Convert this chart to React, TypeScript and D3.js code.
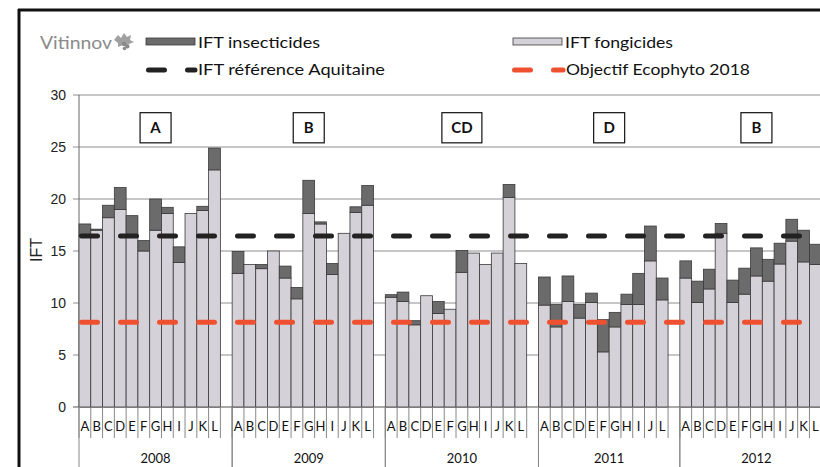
import * as d3 from "d3";

// Exploitations A..L, une série par millésime (pas de K en 2011)
const years = ["2008", "2009", "2010", "2011", "2012"];
const letters = ["A", "B", "C", "D", "E", "F", "G", "H", "I", "J", "K", "L"];
const letters2011 = ["A", "B", "C", "D", "E", "F", "G", "H", "I", "J", "L"];
const vineyardsByYear = [letters, letters, letters, letters2011, letters];

const fongicides = [
  [16.5, 17.0, 18.2, 19.0, 16.4, 15.0, 17.0, 18.6, 13.9, 18.6, 18.9, 22.8],
  [12.85, 13.7, 13.3, 15.0, 12.4, 10.4, 18.6, 17.6, 12.75, 16.7, 18.7, 19.4],
  [10.55, 10.15, 7.9, 10.7, 9.0, 9.4, 12.95, 14.8, 13.7, 14.8, 20.15, 13.8],
  [9.8, 7.7, 10.15, 8.55, 10.05, 5.3, 7.7, 9.85, 9.85, 14.05, 10.3],
  [12.4, 10.05, 11.35, 16.7, 10.05, 10.85, 12.6, 12.1, 13.75, 15.95, 13.95, 13.7],
];

const insecticides = [
  [1.1, 0.1, 1.2, 2.1, 2.0, 1.0, 3.0, 0.6, 1.5, 0, 0.4, 2.1],
  [2.1, 0, 0.4, 0, 1.15, 1.1, 3.2, 0.2, 1.05, 0, 0.55, 1.9],
  [0.25, 0.9, 0.4, 0, 1.15, 0, 2.1, 0, 0, 0, 1.25, 0],
  [2.7, 2.15, 2.45, 1.3, 0.9, 3.1, 1.4, 1.0, 3.0, 3.35, 2.1],
  [1.65, 2.05, 1.9, 0.95, 2.15, 2.5, 2.7, 2.1, 2.0, 2.1, 3.05, 1.95],
];

const refAquitaine = 16.45;
const objectifEcophyto = 8.15;
const groupLabels = ["A", "B", "CD", "D", "B"];
const yTicks = [0, 5, 10, 15, 20, 25, 30];

const W = 820;
const H = 467;
const left = 79;
const right = 833;
const top = 95;
const bottom = 407;

const FONG = "#d5d1d8";
const INS = "#6b6b6b";
const EDGE = "#3a3a3a";
const RED = "#ef5030";
const DARK = "#222";
const calibri = "Lato, 'Open Sans', sans-serif";
const arial = "'Liberation Sans', Arial, sans-serif";

type Slot = { id: string; year: number; letter: string | null; fong: number; ins: number };

const slots: Slot[] = [];
years.forEach((_, yi) => {
  vineyardsByYear[yi].forEach((l, li) => {
    slots.push({ id: `${yi}-${l}`, year: yi, letter: l, fong: fongicides[yi][li], ins: insecticides[yi][li] });
  });
  slots.push({ id: `${yi}-blank`, year: yi, letter: null, fong: 0, ins: 0 });
});

export default function App() {
  const x = d3
    .scaleBand<string>()
    .domain(slots.map((s) => s.id))
    .range([left, right])
    .padding(0);
  const y = d3.scaleLinear().domain([0, 30]).range([bottom, top]);
  const bw = x.bandwidth();

  const groupRange = years.map((_, yi) => {
    const ids = slots.filter((s) => s.year === yi).map((s) => s.id);
    const x0 = x(ids[0])!;
    const x1 = x(ids[ids.length - 1])! + bw;
    return [x0, x1];
  });

  const dash = "16 23";

  return (
    <div style={{ position: "fixed", left: 0, top: 0 }}>
      <svg width={W} height={H} style={{ display: "block", background: "#fff" }}>
        {/* cadre */}
        <line x1={18} x2={W} y1={10} y2={10} stroke="#111" strokeWidth={3} />
        <line x1={19} x2={19} y1={9} y2={H} stroke="#111" strokeWidth={3} />

        {/* logo */}
        <text x={40} y={49} fontFamily={calibri} fontSize={17} fill="#8a8a8a" textLength={72} lengthAdjust="spacingAndGlyphs">
          Vitinnov
        </text>
        <g fill="#a0a0a0">
          <path d="M114,40 L118,35 L121,38 L124,33 L127,37 L131,35 L130,40 L134,42 L129,44 L127,48 L123,45 L118,47 L118,43 Z" />
          <circle cx={124} cy={44} r={2.2} fill="#888" />
          <circle cx={127.5} cy={46.5} r={2} fill="#888" />
          <circle cx={124.5} cy={48.5} r={1.8} fill="#888" />
        </g>

        {/* légende */}
        <rect x={146} y={38} width={49} height={7} fill={INS} stroke={EDGE} strokeWidth={0.8} />
        <text x={198} y={48} fontFamily={calibri} fontSize={16} fill="#111" textLength={122} lengthAdjust="spacingAndGlyphs">
          IFT insecticides
        </text>
        <rect x={513} y={38} width={49} height={7} fill={FONG} stroke={EDGE} strokeWidth={0.8} />
        <text x={565} y={48} fontFamily={calibri} fontSize={16} fill="#111" textLength={108} lengthAdjust="spacingAndGlyphs">
          IFT fongicides
        </text>
        <line x1={148.5} x2={195} y1={70} y2={70} stroke={DARK} strokeWidth={5} strokeDasharray={dash} strokeLinecap="round" />
        <text x={198} y={75} fontFamily={calibri} fontSize={16} fill="#111" textLength={187} lengthAdjust="spacingAndGlyphs">
          IFT référence Aquitaine
        </text>
        <line x1={514.5} x2={563} y1={70} y2={70} stroke={RED} strokeWidth={5} strokeDasharray={dash} strokeLinecap="round" />
        <text x={566} y={75} fontFamily={calibri} fontSize={16} fill="#111" textLength={184} lengthAdjust="spacingAndGlyphs">
          Objectif Ecophyto 2018
        </text>

        {/* grille */}
        {yTicks.map((t) => (
          <g key={t}>
            <line x1={73} x2={right} y1={y(t)} y2={y(t)} stroke={t === 0 ? "#555" : "#8e8e8e"} strokeWidth={1} />
            <text x={66} y={y(t)} dy="0.35em" textAnchor="end" fontFamily={arial} fontSize={14} fill="#222">
              {t}
            </text>
          </g>
        ))}
        <line x1={left} x2={left} y1={top} y2={bottom} stroke="#666" />
        <text
          transform={`translate(42,250) rotate(-90)`}
          textAnchor="middle"
          fontFamily={arial}
          fontSize={16}
          fill="#222"
        >
          IFT
        </text>

        {/* barres empilées */}
        {slots
          .filter((s) => s.letter)
          .map((s) => (
            <g key={s.id}>
              <rect
                x={x(s.id)}
                y={y(s.fong)}
                width={bw}
                height={y(0) - y(s.fong)}
                fill={FONG}
                stroke={EDGE}
                strokeWidth={0.8}
              />
              {s.ins > 0 && (
                <rect
                  x={x(s.id)}
                  y={y(s.fong + s.ins)}
                  width={bw}
                  height={y(s.fong) - y(s.fong + s.ins)}
                  fill={INS}
                  stroke={EDGE}
                  strokeWidth={0.8}
                />
              )}
            </g>
          ))}

        {/* références */}
        <line
          x1={left + 2.5}
          x2={right}
          y1={y(refAquitaine)}
          y2={y(refAquitaine)}
          stroke={DARK}
          strokeWidth={5}
          strokeDasharray={dash}
          strokeLinecap="round"
        />
        <line
          x1={left + 2.5}
          x2={right}
          y1={y(objectifEcophyto)}
          y2={y(objectifEcophyto)}
          stroke={RED}
          strokeWidth={5}
          strokeDasharray={dash}
          strokeLinecap="round"
        />

        {/* groupes statistiques */}
        {groupLabels.map((g, i) => {
          const cx = (groupRange[i][0] + groupRange[i][1]) / 2;
          const w = g.length > 1 ? 40 : 31;
          return (
            <g key={i}>
              <rect x={cx - w / 2} y={y(28.3)} width={w} height={y(25.4) - y(28.3)} fill="#fff" stroke="#111" strokeWidth={1.2} />
              <text
                x={cx}
                y={(y(28.3) + y(25.4)) / 2}
                dy="0.36em"
                textAnchor="middle"
                fontFamily={calibri}
                fontWeight="bold"
                fontSize={15}
                fill="#111"
              >
                {g}
              </text>
            </g>
          );
        })}

        {/* axe des catégories */}
        {slots.map((s) => (
          <g key={`t-${s.id}`}>
            <line x1={x(s.id)} x2={x(s.id)} y1={bottom} y2={438} stroke="#888" />
            {s.letter && (
              <text
                x={x(s.id)! + bw / 2}
                y={426}
                dy="0.35em"
                textAnchor="middle"
                fontFamily={calibri}
                fontSize={13}
                fill="#111"
              >
                {s.letter}
              </text>
            )}
          </g>
        ))}
        {groupRange.map(([x0, x1], i) => (
          <g key={`y-${i}`}>
            <line x1={x0} x2={x0} y1={bottom} y2={H} stroke="#888" />
            <line x1={x1} x2={x1} y1={bottom} y2={H} stroke="#888" />
            <text x={(x0 + x1) / 2} y={458} dy="0.35em" textAnchor="middle" fontFamily={calibri} fontSize={13} fill="#111">
              {years[i]}
            </text>
          </g>
        ))}
      </svg>
    </div>
  );
}
